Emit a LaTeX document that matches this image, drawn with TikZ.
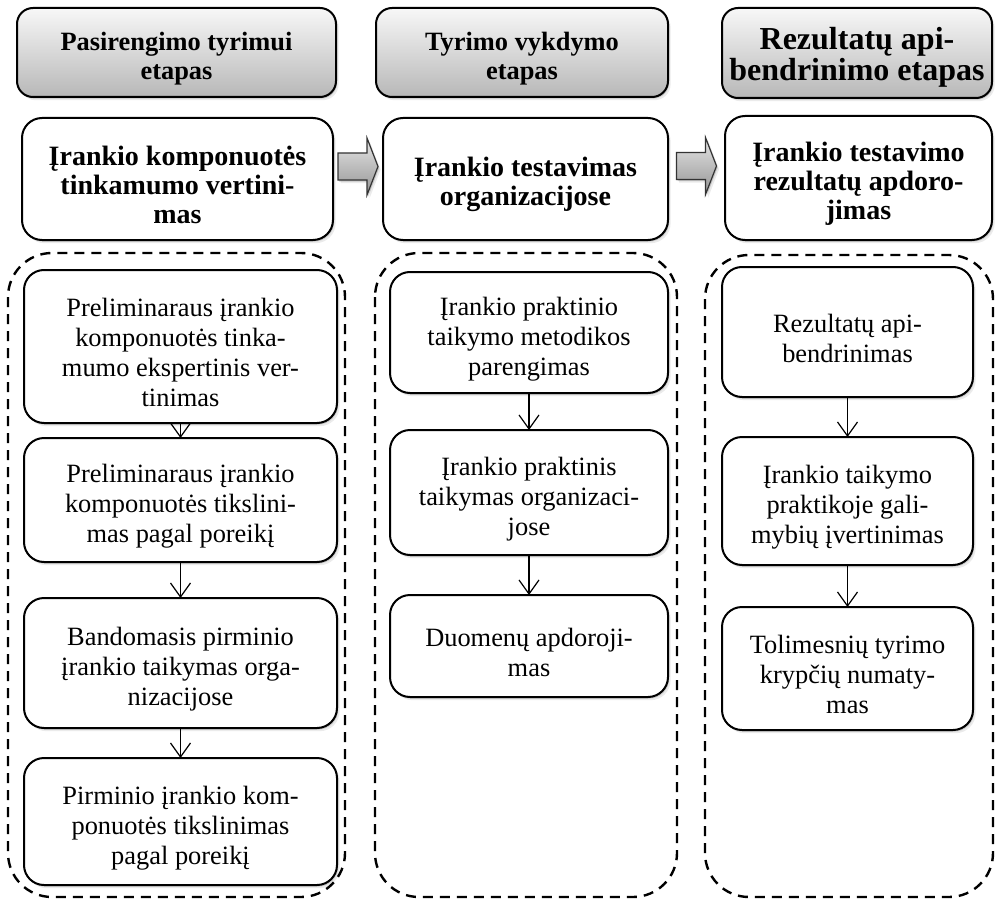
\documentclass[tikz,border=0pt]{standalone}
\usepackage{fontspec}
\setmainfont{Liberation Serif}
\usetikzlibrary{arrows.meta,shadows,calc}

% \boxnode{style}{name}{left}{top}{right}{bottom}{text}: a node filling the given box;
% the strut on the first line sets the text a little below the middle
\newcommand\boxnode[7]{%
  \node[#1, minimum width={(#5-#3)*0.5pt}, minimum height={(#6-#4)*0.5pt}]
    (#2) at ({(#3+#5)/2},{(#4+#6)/2}) {\rule{0pt}{15.5pt}#7};}

\begin{document}
\begin{tikzpicture}[x=0.5pt,y=-0.5pt,
  soft/.style={
    drop shadow={shadow xshift=0.6pt,shadow yshift=-0.8pt,opacity=0.16,fill=black},
    drop shadow={shadow xshift=1.3pt,shadow yshift=-1.6pt,opacity=0.08,fill=black}},
  phase/.style={inner sep=0pt, outer sep=0pt, draw=black, line width=1pt, rounded corners=8pt,
    top color=black!3, bottom color=black!28, soft, align=center,
    font=\fontsize{13.2}{14.5}\selectfont\bfseries},
  stage/.style={inner sep=0pt, outer sep=0pt, draw=black, line width=1pt, rounded corners=10pt,
    fill=white, soft, align=center,
    font=\fontsize{14}{14.5}\selectfont\bfseries},
  task/.style={inner sep=0pt, outer sep=0pt, draw=black, line width=1pt, rounded corners=10pt,
    fill=white, soft, align=center,
    font=\fontsize{13.2}{15}\selectfont},
  group/.style={draw=black, line width=1.2pt, dash pattern=on 5pt off 3.5pt,
    rounded corners=22pt},
  flow/.style={draw=black, line width=0.6pt,
    -{Straight Barb[length=7pt,width=10pt]}},
  blockarrow/.style={draw=black!80, line width=0.6pt, top color=black!10,
    bottom color=black!42, soft}
]
\useasboundingbox (0,0) rectangle (996,899);

% dashed groups, one for each phase
\draw[group] (8,253) rectangle (345,897);
\draw[group] (375,253) rectangle (677,897);
\draw[group] (705,255) rectangle (993,897);

% phase headers
\boxnode{phase}{H1}{17}{8}{336}{97}{Pasirengimo tyrimui\\etapas}
\boxnode{phase}{H2}{376}{8}{668}{97}{Tyrimo vykdymo\\etapas}
\boxnode{phase, font=\fontsize{16}{14.5}\selectfont\bfseries}{H3}{722}{8}{992}{98}
  {Rezultatų api-\\bendrinimo etapas}

% main stage of each phase
\boxnode{stage}{B1}{22}{118}{333}{240}{Įrankio komponuotės\\tinkamumo vertini-\\mas}
\boxnode{stage}{B2}{383}{118}{668}{240}{Įrankio testavimas\\organizacijose}
\boxnode{stage}{B3}{725}{116}{992}{240}{Įrankio testavimo\\rezultatų apdoro-\\jimas}

% block arrows between the stages
\coordinate (m12) at ($(B1.east)!0.5!(B2.west)$);
\coordinate (m23) at ($(B2.east)!0.5!(B3.west)$);
\foreach \m in {m12,m23}{
  \begin{scope}[shift={($(\m)+(0,-12.5)$)}]
    \path[blockarrow] (-20,-13.5) -- (9,-13.5) -- (9,-28.5) -- (20,0)
      -- (9,28.5) -- (9,13.5) -- (-20,13.5) -- cycle;
  \end{scope}
}

% tasks of the first phase
\boxnode{task}{T11}{24}{270}{337}{423}
  {Preliminaraus įrankio\\komponuotės tinka-\\mumo ekspertinis ver-\\tinimas}
\boxnode{task}{T12}{24}{438}{337}{562}
  {Preliminaraus įrankio\\komponuotės tikslini-\\mas pagal poreikį}
\boxnode{task}{T13}{24}{598}{337}{728}
  {Bandomasis pirminio\\įrankio taikymas orga-\\nizacijose}
\boxnode{task}{T14}{24}{758}{337}{885}
  {Pirminio įrankio kom-\\ponuotės tikslinimas\\pagal poreikį}

% tasks of the second phase
\boxnode{task}{T21}{390}{272}{668}{393}
  {Įrankio praktinio\\taikymo metodikos\\parengimas}
\boxnode{task}{T22}{390}{430}{668}{555}
  {Įrankio praktinis\\taikymas organizaci-\\jose}
\boxnode{task}{T23}{390}{595}{668}{697}
  {Duomenų apdoroji-\\mas}

% tasks of the third phase
\boxnode{task}{T31}{722}{267}{973}{397}
  {Rezultatų api-\\bendrinimas}
\boxnode{task}{T32}{722}{437}{973}{565}
  {Įrankio taikymo\\praktikoje gali-\\mybių įvertinimas}
\boxnode{task}{T33}{722}{607}{973}{730}
  {Tolimesnių tyrimo\\krypčių numaty-\\mas}

% sequence arrows
\draw[flow] (T11.south) -- (T12.north);
\draw[flow] (T12.south) -- (T13.north);
\draw[flow] (T13.south) -- (T14.north);
\draw[flow] (T21.south) -- (T22.north);
\draw[flow] (T22.south) -- (T23.north);
\draw[flow] (T31.south) -- (T32.north);
\draw[flow] (T32.south) -- (T33.north);
\end{tikzpicture}
\end{document}
